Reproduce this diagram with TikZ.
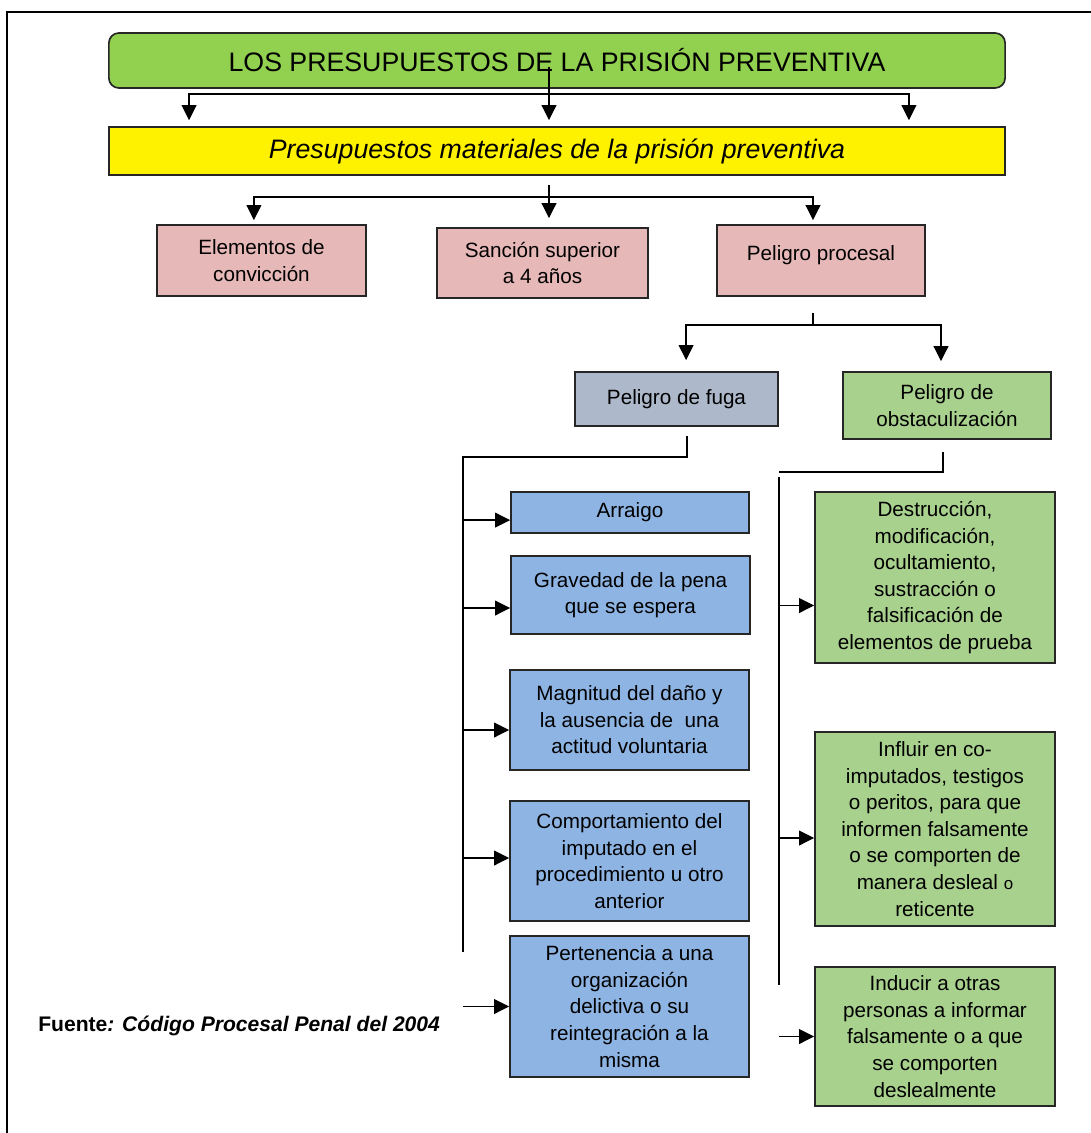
\documentclass[tikz,border=0pt]{standalone}
\usepackage{fontspec}
\setmainfont{Liberation Sans}
\usetikzlibrary{arrows.meta}
\definecolor{titlegreen}{HTML}{92D050}
\definecolor{reqpink}{HTML}{E6B9B8}
\definecolor{fugagray}{HTML}{ADB9CA}
\definecolor{obstgreen}{HTML}{A9D18E}
\definecolor{fugablue}{HTML}{8EB4E3}

\begin{document}
\begin{tikzpicture}[x=0.025cm,y=-0.025cm,
  box/.style={draw=black!85, line width=1.2pt, align=center, inner sep=0pt,
    font=\fontsize{14.7}{18.9}\selectfont},
  big/.style={font=\fontsize{19}{23}\selectfont},
  link/.style={line width=0.9pt},
  arr/.style={line width=0.9pt, -{Triangle[length=3.75mm,width=3.7mm]}}]
\useasboundingbox (0,0) rectangle (1091,1133);
\draw[line width=1.2pt] (7,1133) -- (7,12) -- (1091,12);

\node[box, big, fill=titlegreen, rounded corners=0.25cm, minimum width=22.4cm, minimum height=1.375cm] (title) at (557,60.5) {LOS PRESUPUESTOS DE LA PRISIÓN PREVENTIVA};
\node[box, big, fill=yellow, minimum width=22.4cm, minimum height=1.2cm] (mat) at (557,151) {\itshape Presupuestos materiales de la prisión preventiva};

\node[box, fill=reqpink, minimum width=5.225cm, minimum height=1.775cm] (elem) at (261.5,260.5) {Elementos de\\convicción};
\node[box, fill=reqpink, minimum width=5.275cm, minimum height=1.75cm] (sanc) at (542.5,263) {Sanción superior\\a 4 años};
\node[box, fill=reqpink, minimum width=5.2cm, minimum height=1.775cm] (proc) at (821,260.5) {Peligro procesal\\[-14pt]\strut};

\node[box, fill=fugagray, minimum width=5.075cm, minimum height=1.35cm] (fuga) at (676.5,399) {Peligro de fuga};
\node[box, fill=obstgreen, minimum width=5.2cm, minimum height=1.675cm] (obst) at (947,405.5) {Peligro de\\obstaculización};

\node[box, fill=fugablue, minimum width=5.95cm, minimum height=1.025cm] (arraigo) at (630,512.5) {Arraigo};
\node[box, fill=fugablue, minimum width=5.975cm, minimum height=1.95cm] (grav) at (630.5,595) {Gravedad de la pena\\que se espera};
\node[box, fill=fugablue, minimum width=5.975cm, minimum height=2.5cm] (magn) at (629.5,720) {Magnitud del daño y\\la ausencia de \ una\\actitud voluntaria};
\node[box, fill=fugablue, minimum width=5.975cm, minimum height=3cm] (comp) at (629.5,861) {Comportamiento del\\imputado en el\\procedimiento u otro\\anterior};
\node[box, fill=fugablue, minimum width=5.975cm, minimum height=3.525cm] (pert) at (629.5,1006.5) {Pertenencia a una\\organización\\delictiva o su\\reintegración a la\\misma};

\node[box, fill=obstgreen, minimum width=6cm, minimum height=4.275cm] (destr) at (935,577.5) {Destrucción,\\modificación,\\ocultamiento,\\sustracción o\\falsificación de\\elementos de prueba};
\node[box, fill=obstgreen, minimum width=6cm, minimum height=4.85cm] (infl) at (935,829) {Influir en co-\\imputados, testigos\\o peritos, para que\\informen falsamente\\o se comporten de\\manera desleal {\fontsize{12}{18.9}\selectfont o}\\reticente};
\node[box, fill=obstgreen, minimum width=6cm, minimum height=3.475cm] (indu) at (935,1036.5) {Inducir a otras\\personas a informar\\falsamente o a que\\se comporten\\deslealmente};

\node[anchor=west, inner sep=0pt, font=\fontsize{15}{18}\selectfont\bfseries] (fuente) at (38,1026) {Fuente\textit{: Código Procesal Penal del 2004}};

% title -> material requirements
\coordinate (t0) at (549,67);
\coordinate (tbar) at (549,94);
\draw[arr, shorten >=0.15cm] (t0) -- (t0 |- mat.north);
\draw[arr, shorten >=0.15cm] (tbar) -| ([xshift=2.025cm]mat.north west);
\draw[arr, shorten >=0.15cm] (tbar) -| ([xshift=-2.425cm]mat.north east);

% material requirements -> three boxes
\coordinate (m0) at (549,185);
\coordinate (mbar) at (549,197);
\draw[arr, shorten >=0.225cm] (m0) -- (m0 |- sanc.north);
\draw[arr, shorten >=0.1cm] (mbar) -| ([xshift=-0.19cm]elem.north);
\draw[arr, shorten >=0.1cm] (mbar) -| ([xshift=-0.2cm]proc.north);

% procedural danger
\coordinate (p0) at (813,313);
\coordinate (pbar) at (813,325);
\draw[link] (p0) -- (pbar);
\draw[arr, shorten >=0.275cm] (pbar) -| ([xshift=0.24cm]fuga.north);
\draw[arr, shorten >=0.25cm] (pbar) -| ([xshift=-0.15cm]obst.north);

% buses
\coordinate (f0) at (687,436);
\coordinate (fbus) at (463,457);
\coordinate (fend) at (463,952);
\draw[link] (f0) |- (fbus) -- (fend);
\coordinate (o0) at (943,452);
\coordinate (obus) at (779,472);
\coordinate (oend) at (779,985);
\draw[link] (o0) |- (obus);
\draw[link] ([yshift=-0.125cm]obus) -- (oend);

\foreach \b/\s in {arraigo/-1.9mm, grav/-3.25mm, magn/-2.5mm, comp/0.75mm, pert/0mm}{
  \coordinate (t\b) at ([yshift=\s]\b.west);
  \draw[arr] (t\b -| fbus) -- (t\b);
}
\foreach \b/\s in {destr/-7mm, infl/-2.25mm, indu/0mm}{
  \coordinate (t\b) at ([yshift=\s]\b.west);
  \draw[arr] (t\b -| obus) -- (t\b);
}
\end{tikzpicture}
\end{document}
